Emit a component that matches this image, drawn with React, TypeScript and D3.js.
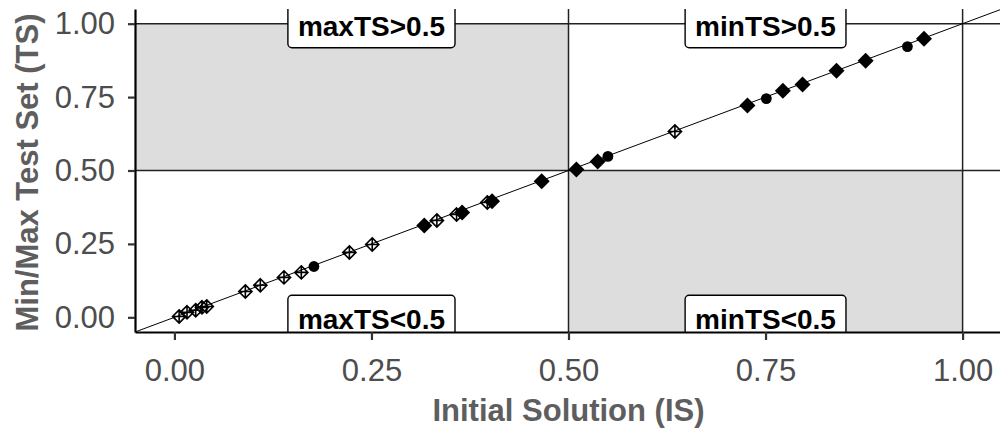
import React, { useRef, useEffect } from 'react';
import * as d3 from 'd3';

// Open diamond with plus (shape 9): IS / TS
const openIS = [0.006, 0.016, 0.027, 0.035, 0.041, 0.09, 0.109, 0.139, 0.161, 0.222, 0.251, 0.333, 0.358, 0.397, 0.635];
const openTS = [0.003, 0.017, 0.024, 0.034, 0.037, 0.088, 0.109, 0.136, 0.153, 0.221, 0.248, 0.33, 0.35, 0.391, 0.633];

// Filled diamond (shape 18)
const diamondIS = [0.317, 0.365, 0.403, 0.466, 0.51, 0.537, 0.727, 0.772, 0.797, 0.84, 0.877, 0.951];
const diamondTS = [0.313, 0.357, 0.395, 0.463, 0.503, 0.531, 0.721, 0.772, 0.793, 0.84, 0.874, 0.949];

// Filled circle
const circleIS = [0.177, 0.55, 0.751, 0.93];
const circleTS = [0.173, 0.548, 0.745, 0.922];

const xTicks = [0, 0.25, 0.5, 0.75, 1];
const yTicks = [0, 0.25, 0.5, 0.75, 1];
const refLines = [0.5, 1];

const regionLabels = ['maxTS>0.5', 'minTS>0.5', 'maxTS<0.5', 'minTS<0.5'];
const labelX = [0.25, 0.75, 0.25, 0.75];
const labelY = [1, 1, 0, 0];

const FONT = '"Liberation Sans", Arial, sans-serif';

function Chart() {
  const svgRef = useRef<SVGSVGElement>(null);

  useEffect(() => {
    const svg = d3.select(svgRef.current);
    svg.selectAll('*').remove();

    const totalW = 1000, totalH = 432;
    const panel = { left: 135, right: 1002, top: 9, bottom: 332 };

    const x = d3.scaleLinear().domain([-0.05, 1.05]).range([panel.left, panel.right]);
    const y = d3.scaleLinear().domain([-0.05, 1.05]).range([panel.bottom, panel.top]);

    svg.attr('width', totalW).attr('height', totalH).style('font-family', FONT);

    svg.append('defs').append('clipPath').attr('id', 'panel-clip')
      .append('rect')
      .attr('x', panel.left).attr('y', panel.top)
      .attr('width', panel.right - panel.left).attr('height', panel.bottom - panel.top);

    const g = svg.append('g').attr('clip-path', 'url(#panel-clip)');

    // shaded quadrants
    g.append('rect')
      .attr('x', panel.left).attr('y', y(1))
      .attr('width', x(0.5) - panel.left).attr('height', y(0.5) - y(1))
      .attr('fill', '#dddddd');
    g.append('rect')
      .attr('x', x(0.5)).attr('y', y(0.5))
      .attr('width', x(1) - x(0.5)).attr('height', panel.bottom - y(0.5))
      .attr('fill', '#dddddd');

    // reference lines
    refLines.forEach(v => {
      g.append('line')
        .attr('x1', panel.left).attr('x2', panel.right)
        .attr('y1', y(v)).attr('y2', y(v))
        .attr('stroke', '#222').attr('stroke-width', 1.5);
      g.append('line')
        .attr('x1', x(v)).attr('x2', x(v))
        .attr('y1', panel.top).attr('y2', panel.bottom)
        .attr('stroke', '#222').attr('stroke-width', 1.5);
    });

    // y = x
    g.append('line')
      .attr('x1', x(-0.05)).attr('y1', y(-0.05))
      .attr('x2', x(1.05)).attr('y2', y(1.05))
      .attr('stroke', '#000').attr('stroke-width', 1);

    // points
    const rOpen = 6.6;
    const openPath = `M0,${-rOpen}L${rOpen},0L0,${rOpen}L${-rOpen},0Z M0,${-rOpen}V${rOpen} M${-rOpen},0H${rOpen}`;
    g.selectAll('path.open')
      .data(d3.zip(openIS, openTS))
      .enter().append('path')
      .attr('class', 'open')
      .attr('transform', d => `translate(${x(d[0])},${y(d[1])})`)
      .attr('d', openPath)
      .attr('fill', 'none').attr('stroke', '#000').attr('stroke-width', 1.6);

    const rDia = 8;
    g.selectAll('path.dia')
      .data(d3.zip(diamondIS, diamondTS))
      .enter().append('path')
      .attr('class', 'dia')
      .attr('transform', d => `translate(${x(d[0])},${y(d[1])})`)
      .attr('d', `M0,${-rDia}L${rDia},0L0,${rDia}L${-rDia},0Z`)
      .attr('fill', '#000');

    g.selectAll('circle.pt')
      .data(d3.zip(circleIS, circleTS))
      .enter().append('circle')
      .attr('class', 'pt')
      .attr('cx', d => x(d[0])).attr('cy', d => y(d[1]))
      .attr('r', 5.4)
      .attr('fill', '#000');

    // region labels
    regionLabels.forEach((txt, i) => {
      const cx = x(labelX[i]), cy = y(labelY[i]);
      const lg = g.append('g');
      const t = lg.append('text')
        .attr('x', cx).attr('y', cy + 12)
        .attr('text-anchor', 'middle')
        .style('font-size', '28px').style('font-weight', 'bold')
        .attr('fill', '#000')
        .text(txt);
      const w = (t.node() as SVGTextElement).getComputedTextLength();
      const bw = w + 20, bh = 46;
      lg.insert('rect', 'text')
        .attr('x', cx - bw / 2).attr('y', cy - bh / 2 + 1)
        .attr('width', bw).attr('height', bh)
        .attr('rx', 4)
        .attr('fill', '#fff').attr('stroke', '#000').attr('stroke-width', 1.4);
    });

    // axes
    const yAxis = svg.append('g')
      .attr('transform', `translate(${panel.left},0)`)
      .call(d3.axisLeft(y).tickValues(yTicks).tickFormat(d3.format('.2f')).tickSize(7).tickSizeOuter(0).tickPadding(13));
    const xAxis = svg.append('g')
      .attr('transform', `translate(0,${panel.bottom})`)
      .call(d3.axisBottom(x).tickValues(xTicks).tickFormat(d3.format('.2f')).tickSize(8).tickSizeOuter(0).tickPadding(19));

    [xAxis, yAxis].forEach(ax => {
      ax.attr('font-family', FONT).attr('font-size', 31);
      ax.select('.domain').attr('stroke', '#000').attr('stroke-width', 2.2);
      ax.selectAll('.tick line').attr('stroke', '#333').attr('stroke-width', 2.2);
      ax.selectAll('.tick text').attr('fill', '#4d4d4d');
    });

    // axis titles
    svg.append('text')
      .attr('x', (panel.left + panel.right) / 2).attr('y', 421)
      .attr('text-anchor', 'middle')
      .style('font-size', '31px').style('font-weight', 'bold')
      .attr('fill', '#5e5e5e')
      .text('Initial Solution (IS)');

    svg.append('text')
      .attr('transform', `translate(38,${(panel.top + panel.bottom) / 2 + 2}) rotate(-90)`)
      .attr('text-anchor', 'middle')
      .style('font-size', '31px').style('font-weight', 'bold')
      .attr('fill', '#5e5e5e')
      .text('Min/Max Test Set (TS)');
  }, []);

  return <svg ref={svgRef}></svg>;
}

export default function App() {
  return (
    <div style={{ position: 'absolute', left: 0, top: 0, background: '#fff' }}>
      <Chart />
    </div>
  );
}
